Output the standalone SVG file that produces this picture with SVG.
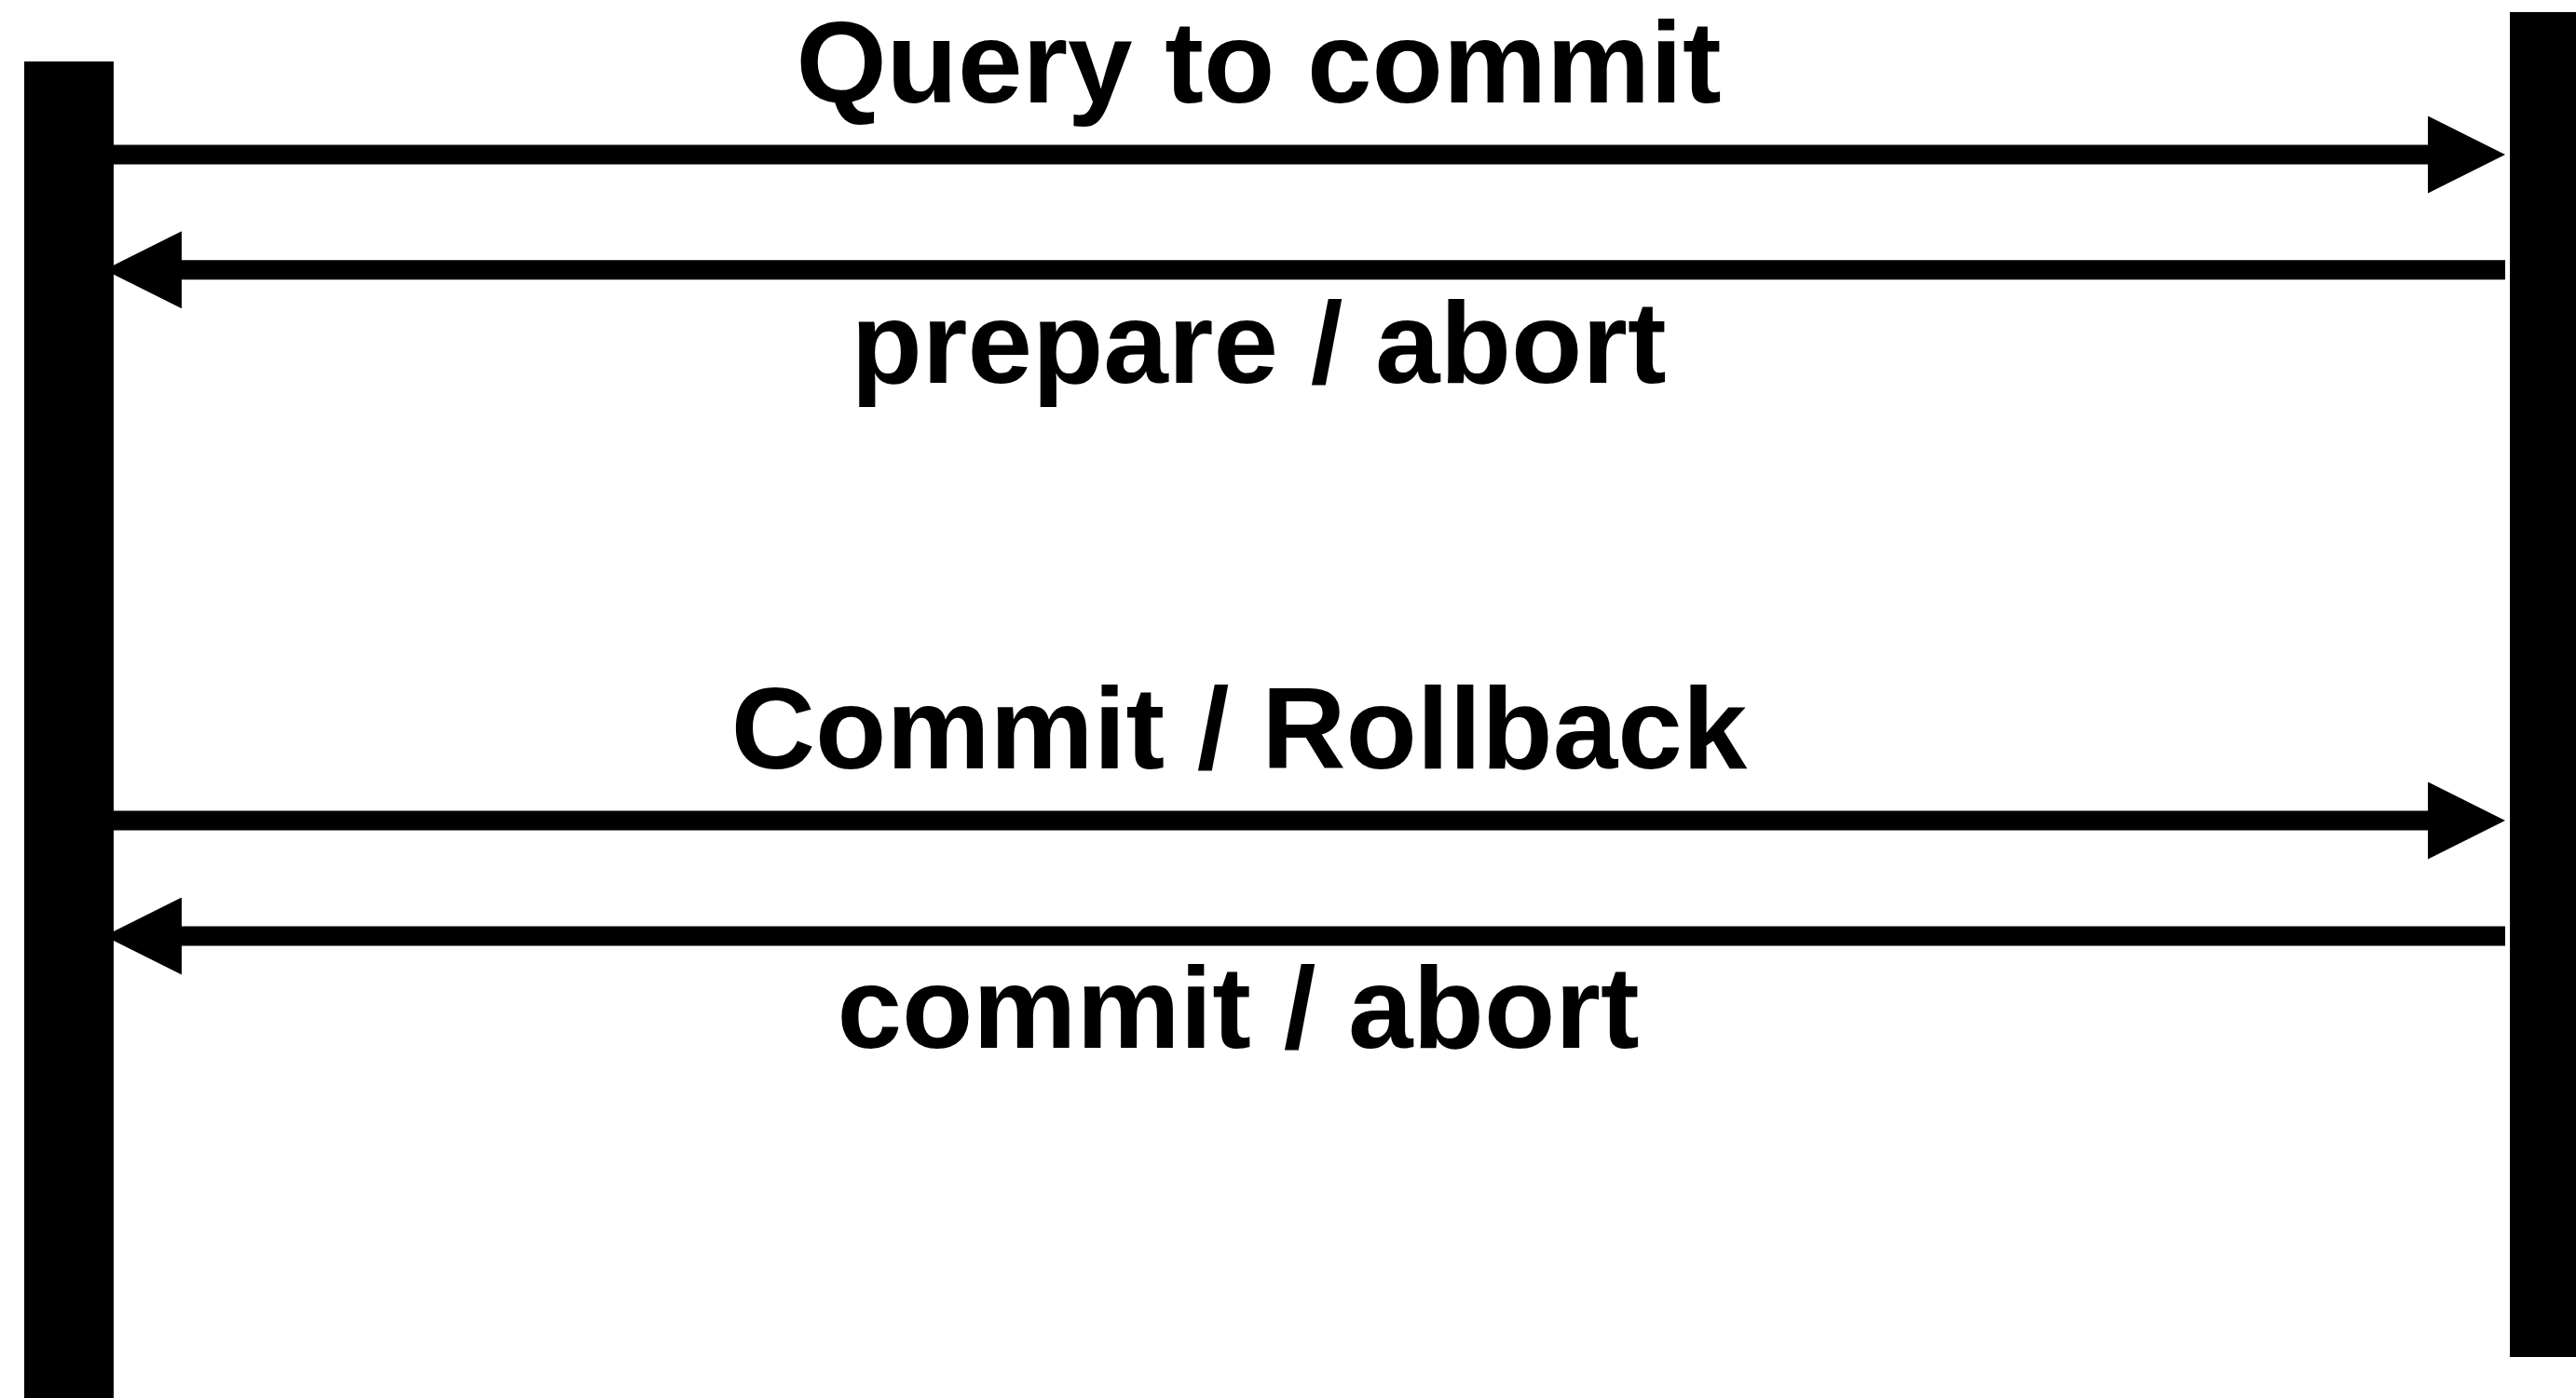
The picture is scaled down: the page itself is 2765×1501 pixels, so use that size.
<svg xmlns="http://www.w3.org/2000/svg" width="2765" height="1501" viewBox="0 0 2765 1501">
  <style>
    .lifeline { fill: #000; }
    .msg { stroke: #000; stroke-width: 21; fill: none; }
    .label { font-family: "Liberation Sans", Arial, Helvetica, sans-serif; font-weight: bold; font-size: 125px; fill: #000; text-anchor: middle; }
  </style>
  <defs>
    <marker id="head" markerUnits="userSpaceOnUse" markerWidth="83" markerHeight="83" refX="0" refY="41.5" orient="auto" viewBox="0 0 83 83">
      <path d="M0,0 L83,41.5 L0,83 Z" fill="#000"/>
    </marker>
  </defs>

  <rect width="2765" height="1501" fill="#fff"/>

  <!-- message arrows between the two participants -->
  <g id="connectors">
    <line class="msg" x1="122" y1="166" x2="2606" y2="166" marker-end="url(#head)"/>
    <line class="msg" x1="2689" y1="289.7" x2="195" y2="289.7" marker-end="url(#head)"/>
    <line class="msg" x1="122" y1="881" x2="2606" y2="881" marker-end="url(#head)"/>
    <line class="msg" x1="2689" y1="1005" x2="195" y2="1005" marker-end="url(#head)"/>
  </g>

  <!-- left participant -->
  <g id="coordinator">
    <rect class="lifeline" x="26" y="66" width="96" height="1435"/>
  </g>

  <!-- right participant -->
  <g id="participant">
    <rect class="lifeline" x="2694" y="13" width="71" height="1444"/>
  </g>

  <g id="labels">
    <text class="label" x="1351" y="110">Query to commit</text>
    <text class="label" x="1351" y="411">prepare / abort</text>
    <text class="label" x="1330" y="825">Commit / Rollback</text>
    <text class="label" x="1329" y="1125">commit / abort</text>
  </g>
</svg>
